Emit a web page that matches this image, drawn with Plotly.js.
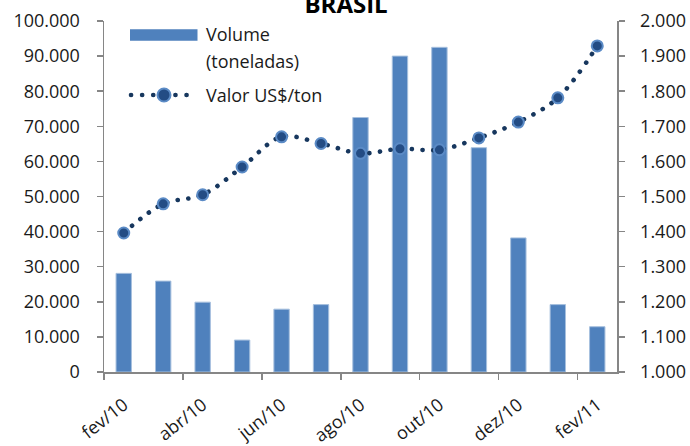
<!DOCTYPE html>
<html>
<head>
<meta charset="utf-8">
<script src="https://cdn.plot.ly/plotly-3.0.1.min.js"></script>
<style>
html,body{margin:0;padding:0;background:#fff;}
#chart{width:690px;height:446px;}
.scatterlayer .js-line{stroke-linecap:round !important;}
.shapelayer path{stroke-linecap:round;}
</style>
</head>
<body>
<div id="chart"></div>
<script>
var categories = ["fev/10","mar/10","abr/10","mai/10","jun/10","jul/10","ago/10","set/10","out/10","nov/10","dez/10","jan/11","fev/11"];
var volume = [28100, 25900, 19900, 9100, 17900, 19200, 72500, 90000, 92500, 63900, 38200, 19200, 12900];
var valor = [1396, 1479, 1505, 1584, 1670, 1651, 1623, 1636, 1633, 1667, 1712, 1781, 1929];
var seriesNames = ["Volume", "(toneladas)", "Valor US$/ton"];
var chartTitle = "BRASIL";

var FONT = "Open Sans, Lato, sans-serif";
var axisGray = "#868686";

var traces = [
  {
    type: "bar",
    x: categories,
    y: volume,
    name: seriesNames[0] + " " + seriesNames[1],
    marker: {color: "#4F81BD", line: {color: "#A7C0DE", width: 1}},
    yaxis: "y",
    showlegend: false
  },
  {
    type: "scatter",
    mode: "lines+markers",
    x: categories,
    y: valor,
    name: seriesNames[2],
    yaxis: "y2",
    line: {color: "#17375E", width: 4.6, dash: "0.1px,10.6px", shape: "spline", smoothing: 1},
    marker: {color: "#234C84", size: 11, line: {color: "#5B8BC6", width: 2}},
    showlegend: false
  }
];

// plot area in pixels: x 104..617, y 21..372
function px(x){ return (x - 104) / 513; }
function py(y){ return (372 - y) / 351; }

var layout = {
  width: 690,
  height: 446,
  margin: {l: 104, r: 73, t: 21, b: 74, pad: 0},
  paper_bgcolor: "#fff",
  plot_bgcolor: "rgba(0,0,0,0)",
  separators: ",.",
  bargap: 0.61,
  font: {family: FONT, size: 18, color: "#1a1a1a"},
  title: {
    text: "<b>" + chartTitle + "</b>",
    font: {family: FONT, size: 24, color: "#000"},
    xref: "container", x: 0.5015, xanchor: "center",
    yref: "container", y: 0.99, yanchor: "middle"
  },
  xaxis: {
    type: "category",
    range: [-0.5, 12.5],
    showline: true, linecolor: axisGray, linewidth: 1.5,
    showgrid: false, zeroline: false,
    ticks: "outside", ticklen: 6, tickwidth: 1.5, tickcolor: axisGray,
    tickson: "boundaries",
    dtick: 2, tick0: 0,
    tickangle: -38,
    ticklabelstandoff: 14,
    tickfont: {family: FONT, size: 18, color: "#1a1a1a"}
  },
  yaxis: {
    range: [0, 100000],
    dtick: 10000,
    tickformat: ",d",
    showline: true, linecolor: axisGray, linewidth: 1.5,
    showgrid: false, zeroline: false,
    ticks: "outside", ticklen: 6, tickwidth: 1.5, tickcolor: axisGray,
    ticklabelstandoff: 13,
    tickfont: {family: FONT, size: 18, color: "#1a1a1a"}
  },
  yaxis2: {
    range: [1000, 2000],
    dtick: 100,
    tickformat: ",d",
    overlaying: "y",
    side: "right",
    showline: true, linecolor: axisGray, linewidth: 1.5,
    showgrid: false, zeroline: false,
    ticks: "outside", ticklen: 6, tickwidth: 1.5, tickcolor: axisGray,
    ticklabelstandoff: 12,
    tickfont: {family: FONT, size: 18, color: "#1a1a1a"}
  },
  shapes: [
    {type: "rect", xref: "paper", yref: "paper",
     x0: px(130), x1: px(197.5), y0: py(40.7), y1: py(29.3),
     fillcolor: "#4F81BD", line: {width: 0}},
    {type: "line", xref: "paper", yref: "paper",
     x0: px(131), x1: px(190), y0: py(95), y1: py(95),
     line: {color: "#17375E", width: 4.6, dash: "0.1px,11px"}},
    {type: "circle", xref: "paper", yref: "paper",
     xsizemode: "pixel", ysizemode: "pixel",
     xanchor: px(164), yanchor: py(95),
     x0: -6.5, x1: 6.5, y0: -6.5, y1: 6.5,
     fillcolor: "#234C84", line: {color: "#5B8BC6", width: 2}}
  ],
  annotations: [
    {text: seriesNames[0], xref: "paper", yref: "paper", x: px(204), y: py(34),
     xanchor: "left", yanchor: "middle", showarrow: false,
     font: {family: FONT, size: 18, color: "#1a1a1a"}},
    {text: seriesNames[1], xref: "paper", yref: "paper", x: px(204), y: py(61),
     xanchor: "left", yanchor: "middle", showarrow: false,
     font: {family: FONT, size: 18, color: "#1a1a1a"}},
    {text: seriesNames[2], xref: "paper", yref: "paper", x: px(204), y: py(95),
     xanchor: "left", yanchor: "middle", showarrow: false,
     font: {family: FONT, size: 18, color: "#1a1a1a"}}
  ],
  showlegend: false
};

Plotly.newPlot("chart", traces, layout, {staticPlot: true, displayModeBar: false});
</script>
</body>
</html>
